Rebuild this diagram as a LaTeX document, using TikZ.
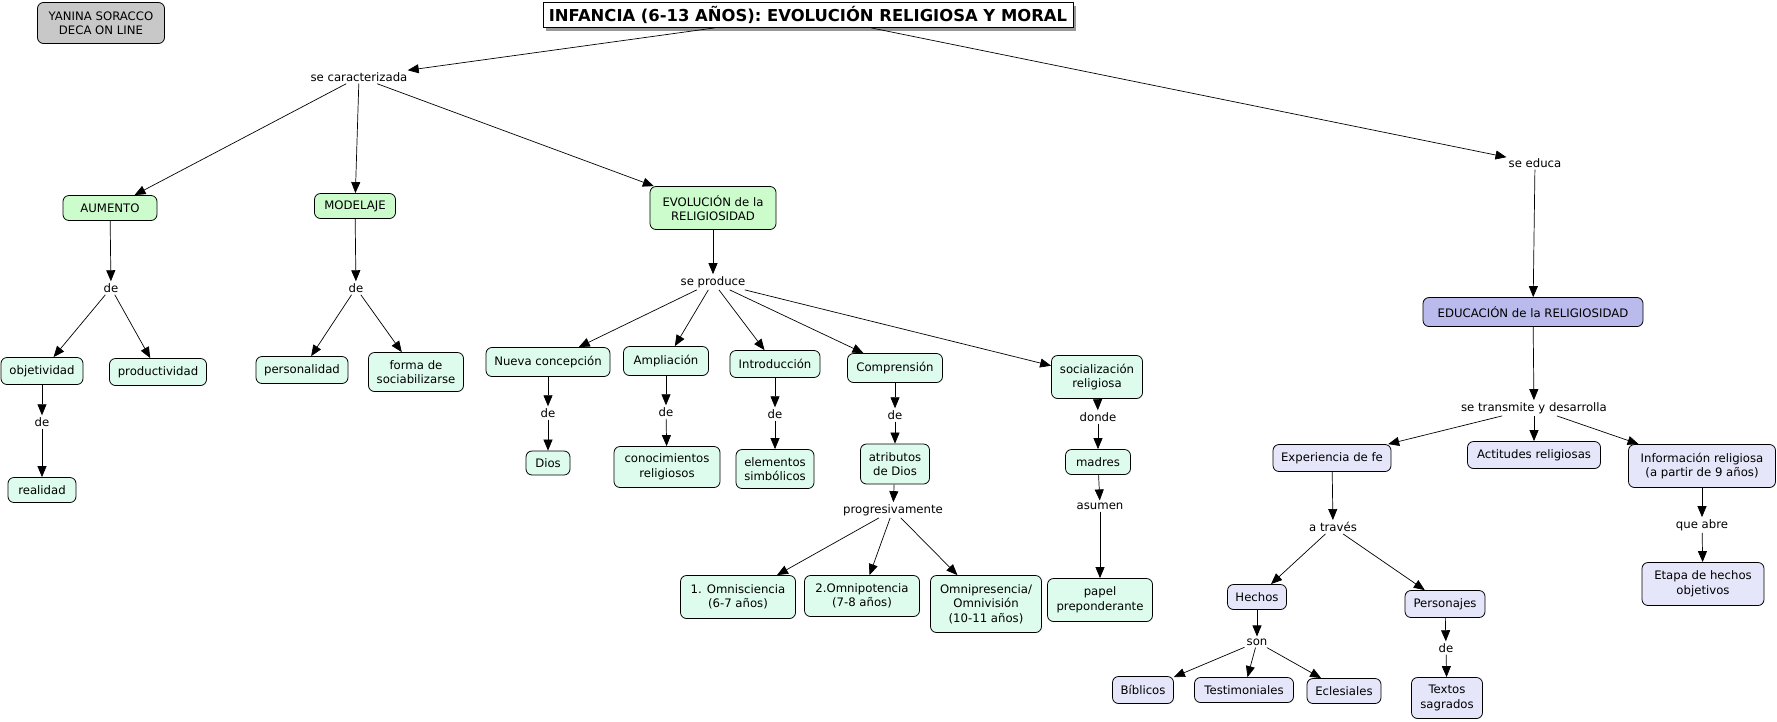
\documentclass[tikz,border=0pt]{standalone}
\usepackage{fontspec}
\setmainfont{DejaVu Sans}
\usetikzlibrary{arrows.meta,shadows}
\definecolor{cgray}{RGB}{200,200,200}
\definecolor{cmain}{RGB}{204,252,204}
\definecolor{cleaf}{RGB}{222,252,238}
\definecolor{cblue}{RGB}{186,186,236}
\definecolor{clav}{RGB}{230,230,250}
\begin{document}
\begin{tikzpicture}[x=1pt,y=-1pt,
  font=\fontsize{11.7}{14.5}\selectfont,
  concept/.style={draw, rounded corners=6pt, align=center, inner xsep=4pt, inner ysep=3pt, line width=0.8pt},
  sz/.style 2 args={minimum width=#1pt, minimum height=#2pt},
  graybox/.style={concept, fill=cgray},
  mainbox/.style={concept, fill=cmain},
  leafbox/.style={concept, fill=cleaf},
  bluebox/.style={concept, fill=cblue},
  lavbox/.style={concept, fill=clav},
  lnk/.style={inner sep=2pt, align=center},
  arr/.style={-{Triangle[length=11pt,width=9pt]}, line width=0.7pt}
]
\useasboundingbox (0,0) rectangle (1777,721);

% top
\node[graybox, sz={127}{41}] (yan) at (101,23) {YANINA SORACCO\\DECA ON LINE};
\node[draw, fill=white, line width=0.8pt, inner xsep=3pt, inner ysep=2pt, sz={530}{25},
      drop shadow={shadow xshift=3pt, shadow yshift=-3pt, fill=gray!80, opacity=1},
      font=\fontsize{16.4}{18}\selectfont\bfseries] (title) at (808,15) {INFANCIA (6-13 AÑOS): EVOLUCIÓN RELIGIOSA Y MORAL};
\node[lnk] (secar) at (359,77) {se caracterizada};
\node[lnk] (seeduca) at (1535,163) {se educa};

% left branch
\node[mainbox, sz={94}{25}] (aum) at (110,208) {AUMENTO};
\node[mainbox, sz={81}{25}] (mod) at (355,206) {MODELAJE};
\node[mainbox, sz={126}{43}] (evol) at (713,208) {EVOLUCIÓN de la\\RELIGIOSIDAD};

\node[lnk] (de1) at (111,288) {de};
\node[leafbox, sz={82}{27}] (obj) at (42,371) {objetividad};
\node[leafbox, sz={97}{27}] (prod) at (158,372) {productividad};
\node[lnk] (de2) at (42,422) {de};
\node[leafbox, sz={68}{25}] (real) at (42,490) {realidad};

\node[lnk] (de3) at (356,288) {de};
\node[leafbox, sz={92}{27}] (pers) at (302,370) {personalidad};
\node[leafbox, sz={95}{39}] (forma) at (416,372) {forma de\\sociabilizarse};

% evolucion branch
\node[lnk] (seprod) at (713,282) {se produce};
\node[leafbox, sz={124}{29}] (nueva) at (548,362) {Nueva concepción};
\node[leafbox, sz={85}{29}] (ampl) at (666,361) {Ampliación};
\node[leafbox, sz={90}{27}] (intro) at (775,364) {Introducción};
\node[leafbox, sz={95}{29}] (compr) at (895,368) {Comprensión};
\node[leafbox, sz={91}{43}] (social) at (1097,377) {socialización\\religiosa};

\node[lnk] (de4) at (548,413) {de};
\node[leafbox, sz={44}{24}] (dios) at (548,463) {Dios};
\node[lnk] (de5) at (666,412) {de};
\node[leafbox, sz={106}{41}] (conoc) at (667,467) {conocimientos\\religiosos};
\node[lnk] (de6) at (775,414) {de};
\node[leafbox, sz={78}{39}] (elem) at (775,469) {elementos\\simbólicos};
\node[lnk] (de7) at (895,415) {de};
\node[leafbox, sz={69}{40}] (atrib) at (895,464) {atributos\\de Dios};
\node[lnk] (progr) at (893,510) {progresivamente};
\node[leafbox, sz={115}{43}] (omnis) at (738,597) {1. Omnisciencia\\(6-7 años)};
\node[leafbox, sz={115}{41}] (omnip) at (862,596) {2.Omnipotencia\\(7-8 años)};
\node[leafbox, sz={111}{57}] (omnipr) at (986,604) {Omnipresencia/\\Omnivisión\\(10-11 años)};

\node[lnk] (donde) at (1098,417) {donde};
\node[leafbox, sz={65}{25}] (madres) at (1098,462) {madres};
\node[lnk] (asumen) at (1100,506) {asumen};
\node[leafbox, sz={105}{43}] (papel) at (1100,600) {papel\\preponderante};

% educacion branch
\node[bluebox, sz={220}{29}] (educ) at (1533,312) {EDUCACIÓN de la RELIGIOSIDAD};
\node[lnk] (setrans) at (1534,408) {se transmite y desarrolla};
\node[lavbox, sz={118}{27}] (exper) at (1332,458) {Experiencia de fe};
\node[lavbox, sz={133}{27}] (actit) at (1534,455) {Actitudes religiosas};
\node[lavbox, sz={147}{43}] (inform) at (1702,466) {Información religiosa\\(a partir de 9 años)};
\node[lnk] (atraves) at (1333,527) {a través};
\node[lnk] (queabre) at (1702,525) {que abre};
\node[lavbox, sz={122}{43}] (etapa) at (1703,584) {Etapa de hechos\\objetivos};
\node[lavbox, sz={59}{25}] (hechos) at (1257,597) {Hechos};
\node[lavbox, sz={80}{27}] (persj) at (1445,604) {Personajes};
\node[lnk] (son) at (1257,642) {son};
\node[lnk] (de8) at (1446,648) {de};
\node[lavbox, sz={61}{27}] (bibl) at (1143,690) {Bíblicos};
\node[lavbox, sz={99}{25}] (testi) at (1244,690) {Testimoniales};
\node[lavbox, sz={74}{25}] (ecles) at (1344,691) {Eclesiales};
\node[lavbox, sz={71}{41}] (textos) at (1447,698) {Textos\\sagrados};

% connectors
\draw[arr] (title) -- (secar);
\draw[arr] (title) -- (seeduca);
\draw[arr] (secar) -- (aum);
\draw[arr] (secar) -- (mod);
\draw[arr] (secar) -- (evol);
\draw[arr] (aum) -- (de1);
\draw[arr] (de1) -- (obj);
\draw[arr] (de1) -- (prod);
\draw[arr] (obj) -- (de2);
\draw[arr] (de2) -- (real);
\draw[arr] (mod) -- (de3);
\draw[arr] (de3) -- (pers);
\draw[arr] (de3) -- (forma);
\draw[arr] (evol) -- (seprod);
\draw[arr] (seprod) -- (nueva);
\draw[arr] (seprod) -- (ampl);
\draw[arr] (seprod) -- (intro);
\draw[arr] (seprod) -- (compr);
\draw[arr] (seprod) -- (social);
\draw[arr] (nueva) -- (de4);
\draw[arr] (de4) -- (dios);
\draw[arr] (ampl) -- (de5);
\draw[arr] (de5) -- (conoc);
\draw[arr] (intro) -- (de6);
\draw[arr] (de6) -- (elem);
\draw[arr] (compr) -- (de7);
\draw[arr] (de7) -- (atrib);
\draw[arr] (atrib) -- (progr);
\draw[arr] (progr) -- (omnis);
\draw[arr] (progr) -- (omnip);
\draw[arr] (progr) -- (omnipr);
\draw[arr] (social) -- (donde);
\draw[arr] (donde) -- (madres);
\draw[arr] (madres) -- (asumen);
\draw[arr] (asumen) -- (papel);
\draw[arr] (seeduca) -- (educ);
\draw[arr] (educ) -- (setrans);
\draw[arr] (setrans) -- (exper);
\draw[arr] (setrans) -- (actit);
\draw[arr] (setrans) -- (inform);
\draw[arr] (exper) -- (atraves);
\draw[arr] (atraves) -- (hechos);
\draw[arr] (atraves) -- (persj);
\draw[arr] (hechos) -- (son);
\draw[arr] (son) -- (bibl);
\draw[arr] (son) -- (testi);
\draw[arr] (son) -- (ecles);
\draw[arr] (persj) -- (de8);
\draw[arr] (de8) -- (textos);
\draw[arr] (inform) -- (queabre);
\draw[arr] (queabre) -- (etapa);
\end{tikzpicture}
\end{document}
